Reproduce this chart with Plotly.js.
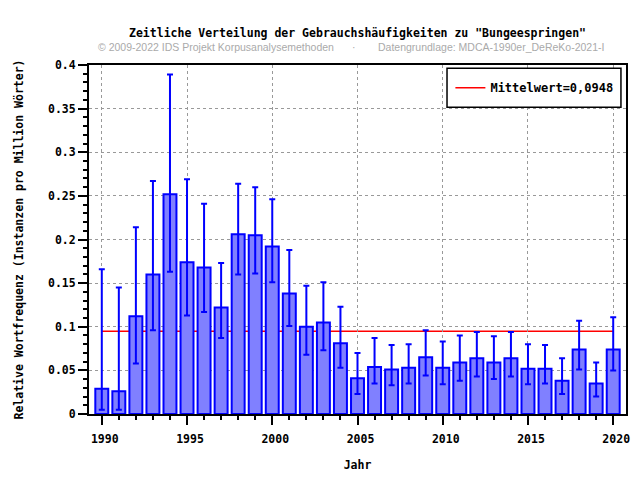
<!DOCTYPE html>
<html>
<head>
<meta charset="utf-8">
<script src="https://cdn.plot.ly/plotly-3.0.1.min.js"></script>
<style>
  body { margin: 0; }
  #chart { width: 640px; height: 480px; }
</style>
</head>
<body>
<div id="chart"></div>
<script>
  // Jahre und Werte
  const years = [1990, 1991, 1992, 1993, 1994, 1995, 1996, 1997, 1998, 1999,
    2000, 2001, 2002, 2003, 2004, 2005, 2006, 2007, 2008, 2009,
    2010, 2011, 2012, 2013, 2014, 2015, 2016, 2017, 2018, 2019, 2020];
  const freq = [0.029, 0.026, 0.112, 0.160, 0.252, 0.174, 0.168, 0.122, 0.206, 0.205,
    0.192, 0.138, 0.100, 0.105, 0.081, 0.041, 0.054, 0.051, 0.053, 0.065,
    0.053, 0.059, 0.064, 0.059, 0.064, 0.052, 0.052, 0.038, 0.074, 0.035, 0.074];
  const upper = [0.166, 0.145, 0.214, 0.267, 0.389, 0.269, 0.241, 0.173, 0.264, 0.260,
    0.246, 0.188, 0.147, 0.151, 0.123, 0.070, 0.087, 0.079, 0.080, 0.096,
    0.083, 0.090, 0.094, 0.089, 0.094, 0.080, 0.079, 0.064, 0.107, 0.059, 0.111];
  const lower = [0.005, 0.005, 0.058, 0.096, 0.163, 0.113, 0.117, 0.087, 0.160, 0.161,
    0.151, 0.101, 0.068, 0.073, 0.053, 0.023, 0.035, 0.033, 0.035, 0.044,
    0.034, 0.038, 0.043, 0.040, 0.043, 0.034, 0.035, 0.023, 0.051, 0.020, 0.050];
  const mean = 0.0948;

  const errPlus = freq.map((v, i) => upper[i] - v);
  const errMinus = freq.map((v, i) => v - lower[i]);

  const mono = 'DejaVu Sans Mono, monospace';
  const sans = 'Liberation Sans, Arial, sans-serif';
  const grey = '#aaaaaa';

  const bars = {
    type: 'bar',
    x: years,
    y: freq,
    width: 0.76,
    marker: { color: '#8080ff', line: { color: '#0000ff', width: 2 } },
    error_y: {
      type: 'data', symmetric: false,
      array: errPlus, arrayminus: errMinus,
      color: '#0000ff', thickness: 2, width: 3
    },
    showlegend: false,
    hoverinfo: 'x+y'
  };

  const layout = {
    width: 640, height: 480,
    margin: { l: 89, r: 14, t: 65, b: 66 },
    paper_bgcolor: '#ffffff',
    plot_bgcolor: '#ffffff',
    font: { family: mono, size: 11.5, color: '#000' },
    title: {
      text: '<b>Zeitliche Verteilung der Gebrauchshäufigkeiten zu "Bungeespringen"</b>',
      font: { family: mono, size: 11.5, color: '#000' },
      xref: 'paper', x: 0.5, xanchor: 'center',
      y: 0.931, yanchor: 'middle'
    },
    xaxis: {
      range: [1989.25, 2020.75],
      tickmode: 'linear', tick0: 1990, dtick: 5,
      ticks: 'outside', ticklen: 9, tickwidth: 2, tickcolor: '#000',
      minor: { dtick: 1, ticks: 'outside', ticklen: 4, tickwidth: 2, tickcolor: '#000', showgrid: false },
      showline: true, linecolor: '#000', linewidth: 2, mirror: true,
      showgrid: true, gridcolor: '#999', griddash: 'dot', gridwidth: 1,
      zeroline: false,
      ticklabelstandoff: 4, ticklabelshift: 3,
      tickfont: { family: mono, size: 11.5, weight: 'bold' },
      title: { text: '<b>Jahr</b>', font: { family: mono, size: 11.5 }, standoff: 16 }
    },
    yaxis: {
      range: [0, 0.4],
      tickmode: 'linear', tick0: 0, dtick: 0.05,
      ticks: 'outside', ticklen: 9, tickwidth: 2, tickcolor: '#000',
      minor: { dtick: 0.01, ticks: 'outside', ticklen: 4, tickwidth: 2, tickcolor: '#000', showgrid: false },
      showline: true, linecolor: '#000', linewidth: 2, mirror: true,
      showgrid: true, gridcolor: '#999', griddash: 'dot', gridwidth: 1,
      zeroline: false,
      tickfont: { family: mono, size: 11.5, weight: 'bold' },
      title: { text: '<b>Relative Wortfrequenz (Instanzen pro Million Wörter)</b>', font: { family: mono, size: 11.5 }, standoff: 22 }
    },
    shapes: [
      // Mittelwertlinie hinter den Balken
      {
        type: 'line', xref: 'x', yref: 'y', layer: 'below',
        x0: years[0], x1: years[years.length - 1], y0: mean, y1: mean,
        line: { color: '#ff0000', width: 1.5 },
        showlegend: true, name: '<b>Mittelwert=0,0948</b>'
      },
      // Legendenrahmen als eigenes Rechteck
      {
        type: 'rect', xref: 'paper', yref: 'paper', layer: 'above',
        x0: 0.6667, x1: 0.9906, y0: 0.879, y1: 0.991,
        fillcolor: '#ffffff', line: { color: '#000', width: 1.5 }
      }
    ],
    showlegend: true,
    legend: {
      x: 0.673, y: 0.935, xanchor: 'left', yanchor: 'middle',
      bgcolor: 'rgba(0,0,0,0)', borderwidth: 0,
      font: { family: mono, size: 12 },
      itemwidth: 30
    },
    annotations: [
      {
        xref: 'paper', yref: 'paper', x: 0.013, y: 1.051, xanchor: 'left', yanchor: 'middle',
        text: '© 2009-2022 IDS Projekt Korpusanalysemethoden', showarrow: false,
        font: { family: sans, size: 10.5, color: grey }
      },
      {
        xref: 'paper', yref: 'paper', x: 0.4935, y: 1.051, xanchor: 'center', yanchor: 'middle',
        text: '·', showarrow: false,
        font: { family: sans, size: 10.5, color: grey }
      },
      {
        xref: 'paper', yref: 'paper', x: 0.534, y: 1.051, xanchor: 'left', yanchor: 'middle',
        text: 'Datengrundlage: MDCA-1990er_DeReKo-2021-I', showarrow: false,
        font: { family: sans, size: 10.5, color: grey }
      }
    ]
  };

  Plotly.newPlot('chart', [bars], layout, { displayModeBar: false, staticPlot: true });
</script>
</body>
</html>
